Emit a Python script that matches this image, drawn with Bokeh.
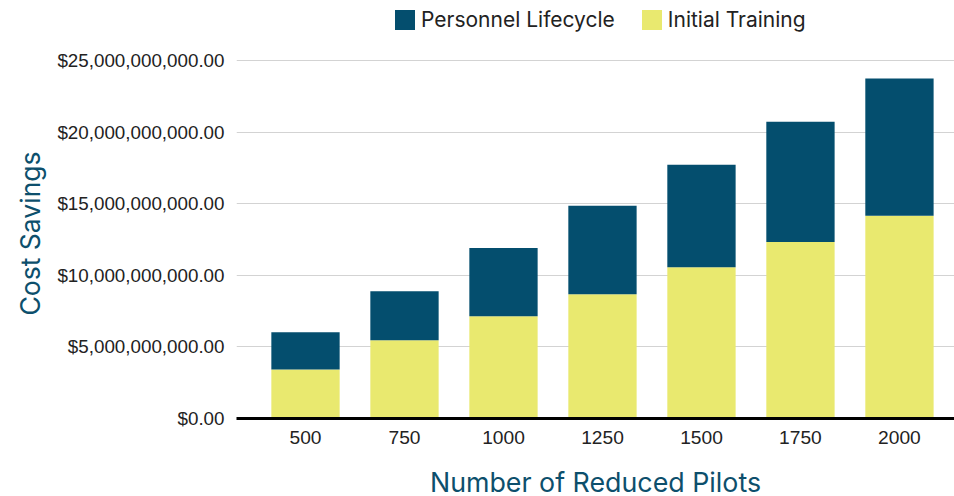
from bokeh.plotting import figure
from bokeh.models import (Range1d, FixedTicker, NumeralTickFormatter, Legend, LegendItem,
                          ColumnDataSource, Title)
from bokeh.embed import file_html
from bokeh.resources import INLINE

categories = ["500", "750", "1000", "1250", "1500", "1750", "2000"]
initial_training = [3.43e9, 5.46e9, 7.14e9, 8.68e9, 10.57e9, 12.32e9, 14.16e9]
personnel_lifecycle = [2.59e9, 3.43e9, 4.76e9, 6.17e9, 7.15e9, 8.41e9, 9.58e9]
y_ticks = [0, 5e9, 10e9, 15e9, 20e9, 25e9]

BLUE = "#044e6e"
YELLOW = "#e9e96f"
TITLE_COLOR = "#0d4f6c"

# frame spans the full top of the figure; the value axis tops out at 25B, 60px below the top
FRAME_H = 418
Y_TOP = y_ticks[-1] * FRAME_H / 358

xs = list(range(len(categories)))
src = ColumnDataSource(dict(x=xs, training=initial_training, lifecycle=personnel_lifecycle))

p = figure(frame_width=718, frame_height=FRAME_H, output_backend="svg", toolbar_location=None,
           x_range=Range1d(-0.697, 6.556), y_range=Range1d(0, Y_TOP),
           min_border_left=236, min_border_right=0, min_border_top=0, min_border_bottom=78)
p.outline_line_color = None

rs = p.vbar_stack(["training", "lifecycle"], x="x", width=0.69, source=src,
                  color=[YELLOW, BLUE], line_color=None)

legend = Legend(items=[LegendItem(label="Personnel Lifecycle", renderers=[rs[1]]),
                       LegendItem(label="Initial Training", renderers=[rs[0]])],
                orientation="horizontal", location=(156, 386))
legend.label_text_font = "Inter"
legend.label_text_font_size = "21px"
legend.label_text_color = "#222222"
legend.glyph_width = 25
legend.glyph_height = 25
legend.label_standoff = 4
legend.spacing = 24
legend.padding = 0
legend.margin = 0
legend.border_line_color = None
legend.background_fill_alpha = 0
p.add_layout(legend)

p.yaxis.ticker = FixedTicker(ticks=y_ticks)
p.yaxis.formatter = NumeralTickFormatter(format="$0,0.00")
p.yaxis.axis_line_color = None
p.yaxis.major_tick_line_color = None
p.yaxis.major_tick_out = 0
p.yaxis.minor_tick_line_color = None
p.yaxis.major_label_text_font = "Liberation Sans"
p.yaxis.major_label_text_font_size = "18.8px"
p.yaxis.major_label_text_color = "#222222"
p.yaxis.major_label_standoff = 12

ytitle = Title(text="Cost Savings", align="left", offset=103, standoff=18,
               text_font="Inter", text_font_size="26.5px", text_font_style="normal",
               text_color=TITLE_COLOR)
p.add_layout(ytitle, "left")

p.xaxis.ticker = FixedTicker(ticks=xs)
p.xaxis.major_label_overrides = {i: c for i, c in zip(xs, categories)}
p.xaxis.axis_line_color = "black"
p.xaxis.axis_line_width = 3
p.xaxis.major_tick_line_color = None
p.xaxis.minor_tick_line_color = None
p.xaxis.major_label_text_font = "Liberation Sans"
p.xaxis.major_label_text_font_size = "19.2px"
p.xaxis.major_label_text_color = "#222222"
p.xaxis.major_label_standoff = 6
p.xaxis.axis_label = "Number of Reduced Pilots"
p.xaxis.axis_label_text_font = "Inter"
p.xaxis.axis_label_text_font_size = "26.8px"
p.xaxis.axis_label_text_font_style = "normal"
p.xaxis.axis_label_text_color = TITLE_COLOR
p.xaxis.axis_label_standoff = 19

p.xgrid.grid_line_color = None
p.ygrid.grid_line_color = "#d3d3d3"
p.ygrid.grid_line_width = 1
p.ygrid.ticker = FixedTicker(ticks=y_ticks)

open("out.html", "w").write(file_html(p, INLINE))
